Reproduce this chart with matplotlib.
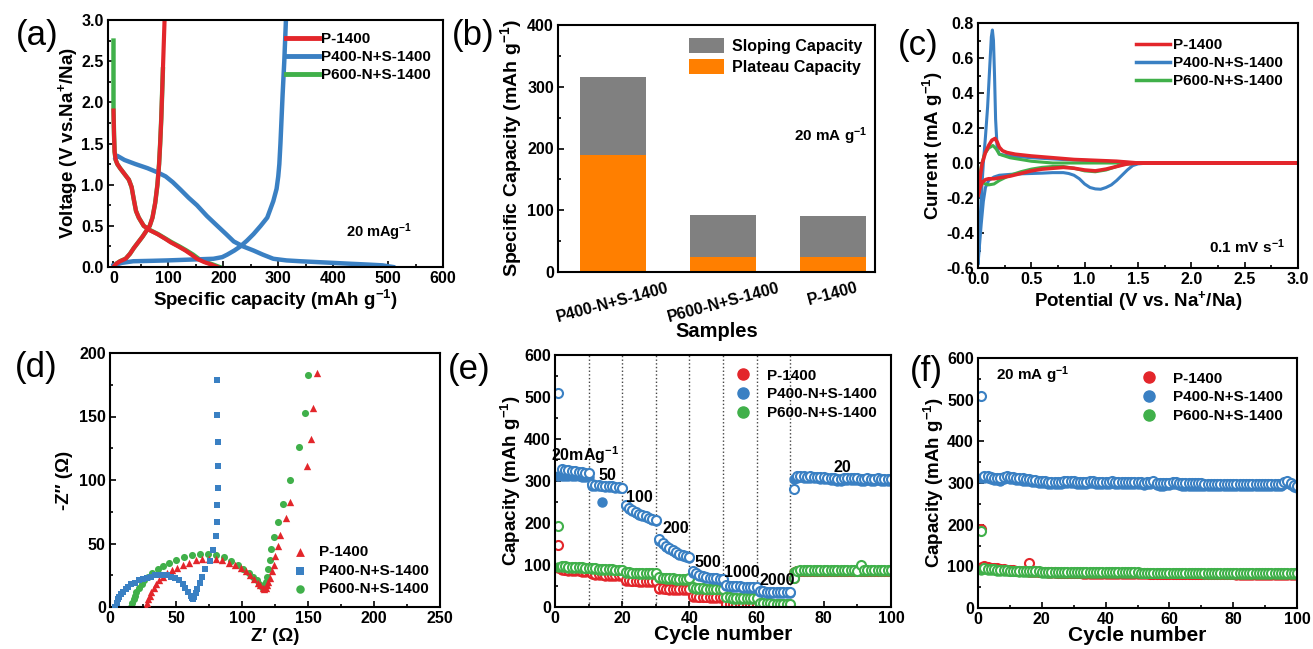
import matplotlib
matplotlib.use('Agg')
import matplotlib.pyplot as plt
from matplotlib.ticker import MultipleLocator
from matplotlib.lines import Line2D
import numpy as np

plt.rcParams['font.family'] = 'Liberation Sans'
plt.rcParams['font.weight'] = 'bold'
plt.rcParams['axes.labelweight'] = 'bold'
plt.rcParams['axes.unicode_minus'] = False
plt.rcParams['mathtext.fontset'] = 'custom'
plt.rcParams['mathtext.rm'] = 'Liberation Sans:bold'
plt.rcParams['mathtext.default'] = 'rm'
plt.rcParams['axes.linewidth'] = 1.5

RED = '#e3262b'
BLUE = '#3a80c3'
GREEN = '#40b04a'
ORANGE = '#ff7f00'
GRAY = '#808080'
NAMES = ['P-1400', 'P400-N+S-1400', 'P600-N+S-1400']

# (a) galvanostatic curves: capacity (mAh/g), voltage (V)
A_RED_DIS_X = [0, 1, 2, 4, 7, 12, 20, 28, 33, 37, 41, 46, 55, 65, 80, 95, 104, 118, 131, 142, 152, 165, 178, 189]
A_RED_DIS_Y = [1.9, 1.6, 1.4, 1.3, 1.25, 1.2, 1.13, 1.06, 0.97, 0.82, 0.68, 0.6, 0.5, 0.45, 0.4, 0.34, 0.3, 0.25, 0.2, 0.15, 0.1, 0.06, 0.03, 0.0]
A_RED_CHG_X = [0, 5, 12, 22, 30, 37, 45, 53, 60, 66, 71, 76, 80, 83, 85, 87, 89, 91, 93]
A_RED_CHG_Y = [0.0, 0.04, 0.07, 0.1, 0.16, 0.23, 0.3, 0.37, 0.44, 0.5, 0.6, 0.78, 1.0, 1.25, 1.5, 1.8, 2.2, 2.6, 3.0]
A_GRN_DIS_X = [0, 0, 1, 2, 4, 7, 12, 20, 28, 33, 37, 41, 46, 55, 66, 81, 96, 106, 120, 133, 145, 155, 168, 181, 193]
A_GRN_DIS_Y = [2.75, 1.9, 1.6, 1.4, 1.3, 1.25, 1.2, 1.13, 1.06, 0.97, 0.82, 0.68, 0.6, 0.5, 0.45, 0.4, 0.34, 0.3, 0.25, 0.2, 0.15, 0.1, 0.06, 0.03, 0.0]
A_GRN_CHG_X = [0, 5, 12, 22, 30, 37, 45, 53, 60, 66, 71, 76, 80, 83, 85, 87, 89, 90]
A_GRN_CHG_Y = [0.0, 0.04, 0.07, 0.1, 0.16, 0.23, 0.3, 0.37, 0.44, 0.5, 0.6, 0.78, 1.0, 1.25, 1.5, 1.8, 2.2, 2.4]
A_BLU_DIS_X = [4, 7, 20, 40, 62, 80, 95, 108, 122, 137, 152, 170, 189, 205, 219, 236, 255, 272, 291, 315, 340, 370, 400, 430, 462, 490, 509]
A_BLU_DIS_Y = [1.32, 1.35, 1.3, 1.25, 1.2, 1.15, 1.1, 1.03, 0.94, 0.84, 0.75, 0.62, 0.5, 0.4, 0.31, 0.25, 0.2, 0.15, 0.1, 0.08, 0.07, 0.06, 0.05, 0.04, 0.03, 0.02, 0.0]
A_BLU_CHG_X = [0, 15, 36, 70, 98, 140, 182, 198, 207, 220, 231, 243, 255, 268, 280, 291, 297, 300, 302, 304, 306, 308, 311, 314]
A_BLU_CHG_Y = [0.02, 0.05, 0.07, 0.075, 0.08, 0.09, 0.1, 0.12, 0.15, 0.2, 0.25, 0.32, 0.4, 0.5, 0.6, 0.8, 0.95, 1.1, 1.25, 1.5, 1.8, 2.1, 2.5, 3.0]

# (b) capacity contributions
B_SAMPLES = ['P400-N+S-1400', 'P600-N+S-1400', 'P-1400']
B_PLATEAU = [189, 25, 25]
B_SLOPING = [127, 67, 66]

# (c) cyclic voltammetry loops: potential (V), current (mA/g)
C_BLU_V = [2.1, 1.8, 1.6, 1.5, 1.45, 1.4, 1.35, 1.3, 1.25, 1.2, 1.15, 1.1, 1.05, 1.0, 0.95, 0.9, 0.85, 0.8, 0.7, 0.6, 0.5, 0.4, 0.3, 0.2, 0.15, 0.1, 0.07, 0.05, 0.03, 0.01, 0.0,
           0.01, 0.03, 0.05, 0.07, 0.09, 0.11, 0.125, 0.135, 0.145, 0.155, 0.165, 0.18, 0.2, 0.25, 0.3, 0.5, 0.8, 1.0, 1.2, 1.4, 1.6, 2.1]
C_BLU_I = [0.0, 0.0, 0.0, -0.005, -0.015, -0.04, -0.07, -0.1, -0.125, -0.14, -0.15, -0.148, -0.14, -0.12, -0.09, -0.07, -0.06, -0.055, -0.055, -0.058, -0.06, -0.062, -0.065, -0.07, -0.08, -0.1, -0.14, -0.22, -0.35, -0.5, -0.58,
           -0.45, -0.2, 0.0, 0.15, 0.32, 0.55, 0.72, 0.76, 0.7, 0.5, 0.25, 0.08, 0.05, 0.045, 0.04, 0.03, 0.02, 0.015, 0.01, 0.003, 0.0, 0.0]
C_GRN_V = [2.0, 1.5, 1.35, 1.2, 1.1, 1.0, 0.9, 0.8, 0.7, 0.6, 0.5, 0.4, 0.3, 0.2, 0.15, 0.1, 0.07, 0.04, 0.02, 0.0,
           0.03, 0.06, 0.1, 0.14, 0.17, 0.2, 0.3, 0.5, 0.7, 2.0]
C_GRN_I = [0.0, 0.0, -0.01, -0.04, -0.05, -0.045, -0.03, -0.02, -0.02, -0.025, -0.035, -0.05, -0.07, -0.1, -0.12, -0.125, -0.12, -0.11, -0.12, -0.15,
           -0.02, 0.05, 0.085, 0.1, 0.08, 0.05, 0.03, 0.01, 0.0, 0.0]
C_RED_V = [3.0, 2.0, 1.5, 1.4, 1.3, 1.2, 1.1, 1.0, 0.9, 0.8, 0.7, 0.6, 0.5, 0.4, 0.3, 0.2, 0.15, 0.1, 0.07, 0.04, 0.02, 0.0,
           0.02, 0.04, 0.07, 0.1, 0.13, 0.16, 0.18, 0.2, 0.23, 0.27, 0.35, 0.5, 0.7, 0.9, 1.1, 1.3, 1.4, 1.5, 3.0]
C_RED_I = [0.0, 0.0, 0.0, -0.005, -0.02, -0.035, -0.045, -0.04, -0.03, -0.025, -0.03, -0.035, -0.045, -0.06, -0.075, -0.085, -0.09, -0.09, -0.095, -0.11, -0.14, -0.19,
           -0.08, 0.0, 0.06, 0.1, 0.13, 0.14, 0.12, 0.09, 0.07, 0.06, 0.05, 0.04, 0.03, 0.02, 0.015, 0.01, 0.005, 0.0, 0.0]

# (d) Nyquist plots: Z' (ohm), -Z'' (ohm)
D_RED_X = [27, 28, 29, 30, 31, 33, 35, 37, 40, 43, 47, 51, 55, 60, 65, 70, 75, 80, 85, 90, 95, 99, 103, 106, 109, 112, 114, 116, 117, 118, 119, 120, 121, 123, 124, 125, 127, 129, 133, 136, 149, 152, 154, 157]
D_RED_Y = [0, 3, 6, 9, 12, 15, 18, 21, 24, 27, 29, 31, 33, 35, 37, 38, 38, 38, 37, 35, 33, 31, 28, 25, 22, 19, 17, 15, 14, 15, 17, 20, 23, 28, 33, 40, 48, 57, 70, 83, 111, 132, 157, 184]
D_BLU_X = [4, 5, 6, 7, 8, 10, 12, 14, 16, 19, 22, 25, 28, 31, 34, 37, 40, 43, 46, 49, 52, 55, 57, 59, 61, 62, 63, 64, 65, 66, 68, 70, 72, 76, 78, 80, 81, 81, 82, 82, 82, 81, 81]
D_BLU_Y = [0, 3, 6, 8, 10, 12, 14, 16, 18, 19, 21, 22, 23, 24, 25, 25, 25, 25, 24, 23, 21, 18, 15, 12, 9, 7, 6, 8, 11, 14, 19, 24, 30, 36, 45, 56, 67, 80, 94, 111, 130, 151, 179]
D_GRN_X = [16, 17, 18, 19, 20, 22, 24, 26, 29, 32, 36, 40, 45, 50, 56, 62, 68, 74, 80, 86, 92, 97, 101, 105, 108, 111, 113, 115, 116, 117, 118, 119, 120, 121, 122, 124, 127, 131, 136, 143, 148, 150]
D_GRN_Y = [0, 3, 6, 9, 12, 15, 18, 21, 24, 27, 30, 32, 35, 37, 39, 41, 42, 42, 41, 39, 36, 33, 30, 27, 24, 21, 18, 16, 15, 17, 20, 24, 30, 37, 46, 55, 67, 81, 100, 126, 153, 183]

# (e) rate capability, cycles 1-100
E_RATES = ['20mAg$^{-1}$', '50', '100', '200', '500', '1000', '2000', '20']
E_BLU_OPEN = [510, 328, 327, 326, 325, 323, 322, 321, 320, 318,
              293, 291, 290, 289, 288, 288, 287, 286, 285, 284,
              243, 236, 230, 226, 222, 219, 216, 213, 210, 206,
              162, 153, 146, 140, 135, 131, 127, 124, 121, 119,
              86, 81, 77, 74, 72, 70, 69, 68, 67, 66,
              53, 51, 50, 49, 49, 48, 48, 48, 47, 47,
              38, 37, 36, 36, 36, 36, 35, 35, 35, 35,
              280, 312, 313, 311, 310, 311, 310, 310, 309, 309,
              308, 307, 306, 305, 304, 306, 307, 307, 306, 306,
              305, 305, 306, 305, 305, 306, 305, 305, 305, 305]
E_BLU_FULL = [312, 313, 313, 312, 312, 311, 311, 310, 310, 310,
              289, 288, 287, 250, 286, 285, 285, 284, 284, 283,
              240, 234, 228, 224, 220, 217, 214, 211, 208, 205,
              158, 150, 143, 138, 133, 129, 125, 122, 119, 117,
              82, 78, 75, 72, 70, 68, 67, 66, 65, 64,
              50, 49, 48, 47, 47, 46, 46, 46, 45, 45,
              36, 35, 34, 34, 34, 34, 33, 33, 33, 33,
              305, 308, 309, 307, 306, 307, 306, 306, 305, 305,
              304, 303, 302, 301, 300, 302, 303, 303, 302, 302,
              301, 301, 302, 301, 301, 302, 301, 301, 301, 301]
E_RED_OPEN = [148, 90, 89, 88, 88, 87, 87, 86, 86, 86,
              80, 79, 78, 78, 77, 77, 77, 77, 76, 76,
              65, 64, 63, 63, 62, 62, 62, 62, 61, 61,
              46, 45, 44, 43, 43, 42, 42, 42, 42, 42,
              27, 26, 25, 25, 25, 24, 24, 24, 24, 24,
              8, 7, 6, 6, 6, 5, 5, 5, 5, 5,
              2, 2, 2, 2, 2, 1, 1, 1, 1, 1,
              70, 85, 86, 86, 86, 86, 86, 86, 86, 86,
              86, 86, 86, 86, 86, 86, 86, 86, 86, 86,
              86, 86, 86, 86, 86, 86, 86, 86, 86, 86]
E_RED_FULL = [92, 88, 87, 86, 86, 85, 85, 84, 84, 84,
              78, 77, 76, 76, 75, 75, 75, 75, 74, 74,
              63, 62, 61, 61, 60, 60, 60, 60, 59, 59,
              44, 43, 42, 41, 41, 40, 40, 40, 40, 40,
              25, 24, 23, 23, 23, 22, 22, 22, 22, 22,
              6, 5, 4, 4, 4, 3, 3, 3, 3, 3,
              1, 1, 1, 1, 1, 0, 0, 0, 0, 0,
              84, 85, 85, 85, 85, 85, 85, 85, 85, 85,
              85, 85, 85, 85, 85, 85, 85, 85, 85, 85,
              85, 85, 85, 85, 85, 85, 85, 85, 85, 85]
E_GRN_OPEN = [193, 98, 97, 96, 96, 95, 95, 95, 94, 94,
              93, 92, 91, 91, 90, 90, 90, 89, 89, 89,
              84, 83, 82, 82, 81, 81, 81, 80, 80, 80,
              72, 70, 69, 68, 68, 67, 67, 67, 67, 68,
              48, 46, 45, 45, 44, 44, 44, 44, 44, 44,
              25, 23, 22, 22, 22, 21, 21, 21, 21, 21,
              10, 9, 9, 9, 8, 8, 8, 8, 8, 7,
              70, 86, 87, 87, 87, 87, 87, 87, 87, 87,
              87, 87, 87, 87, 87, 87, 87, 87, 87, 86,
              100, 87, 87, 87, 87, 87, 87, 87, 87, 87]
E_GRN_FULL = [95, 96, 95, 94, 94, 93, 93, 93, 92, 92,
              91, 90, 89, 89, 88, 88, 88, 87, 87, 87,
              82, 81, 80, 80, 79, 79, 79, 78, 78, 78,
              70, 68, 67, 66, 66, 65, 65, 65, 65, 66,
              46, 44, 43, 43, 42, 42, 42, 42, 42, 42,
              23, 21, 20, 20, 20, 19, 19, 19, 19, 19,
              8, 7, 7, 7, 6, 6, 6, 6, 6, 5,
              84, 85, 85, 85, 85, 85, 85, 85, 85, 85,
              85, 85, 85, 85, 85, 85, 85, 85, 85, 85,
              85, 85, 85, 85, 85, 85, 85, 85, 85, 85]

# (f) cycling at 20 mA/g, cycles 1-100
F_BLU_OPEN = [508, 318, 316, 314, 313, 312, 311, 314, 316, 315,
              314, 313, 312, 311, 310, 309, 308, 307, 306, 305,
              304, 303, 303, 302, 302, 303, 304, 305, 304, 304,
              303, 303, 303, 303, 304, 304, 303, 303, 303, 303,
              303, 304, 303, 302, 302, 303, 303, 302, 302, 302,
              302, 301, 303, 302, 304, 300, 299, 299, 300, 301,
              303, 302, 300, 299, 299, 299, 299, 299, 299, 299,
              298, 298, 298, 298, 298, 298, 298, 298, 298, 298,
              298, 298, 298, 297, 297, 297, 297, 297, 297, 297,
              297, 297, 297, 297, 297, 302, 304, 301, 296, 294]
F_BLU_FULL = [312, 313, 311, 309, 308, 307, 306, 309, 311, 310,
              309, 308, 307, 306, 305, 304, 303, 302, 301, 300,
              299, 298, 298, 297, 297, 298, 299, 300, 299, 299,
              298, 298, 298, 298, 299, 299, 298, 298, 298, 298,
              298, 299, 298, 297, 297, 298, 298, 297, 297, 297,
              297, 296, 298, 297, 299, 295, 294, 294, 295, 296,
              298, 297, 295, 294, 294, 294, 294, 294, 294, 294,
              293, 293, 293, 293, 293, 293, 293, 293, 293, 293,
              293, 293, 293, 292, 292, 292, 292, 292, 292, 292,
              292, 292, 292, 292, 292, 297, 299, 296, 291, 289]
F_RED_OPEN = [190, 100, 98, 97, 96, 95, 94, 93, 92, 91,
              91, 90, 90, 89, 89, 108, 88, 88, 87, 87,
              87, 86, 86, 86, 85, 85, 85, 84, 84, 84,
              84, 84, 83, 83, 83, 83, 83, 83, 83, 83,
              83, 83, 83, 83, 83, 83, 83, 83, 83, 83,
              83, 83, 83, 82, 82, 82, 82, 82, 82, 82,
              82, 82, 82, 82, 82, 82, 82, 82, 82, 82,
              82, 82, 82, 82, 82, 82, 82, 82, 82, 82,
              81, 81, 81, 81, 81, 81, 81, 81, 81, 81,
              81, 81, 81, 81, 81, 81, 81, 81, 81, 81]
F_RED_FULL = [98, 99, 97, 96, 95, 94, 93, 92, 91, 90,
              90, 89, 89, 88, 88, 87, 87, 87, 86, 86,
              86, 85, 85, 85, 84, 84, 84, 83, 83, 83,
              83, 83, 82, 82, 82, 82, 82, 82, 82, 82,
              82, 82, 82, 82, 82, 82, 82, 82, 82, 82,
              82, 82, 82, 81, 81, 81, 81, 81, 81, 81,
              81, 81, 81, 81, 81, 81, 81, 81, 81, 81,
              81, 81, 81, 81, 81, 81, 81, 81, 81, 81,
              80, 80, 80, 80, 80, 80, 80, 80, 80, 80,
              80, 80, 80, 80, 80, 80, 80, 80, 80, 80]
F_GRN_OPEN = [185, 95, 94, 93, 93, 92, 92, 91, 91, 90,
              90, 90, 89, 89, 89, 88, 88, 88, 88, 87,
              87, 87, 87, 87, 87, 87, 87, 87, 87, 87,
              86, 86, 86, 86, 86, 86, 86, 86, 86, 86,
              86, 86, 86, 86, 86, 86, 86, 86, 86, 86,
              85, 85, 85, 85, 85, 85, 85, 85, 85, 85,
              85, 85, 85, 85, 85, 85, 85, 85, 85, 85,
              84, 84, 84, 84, 84, 84, 84, 84, 84, 84,
              84, 84, 84, 84, 84, 84, 84, 84, 84, 84,
              84, 84, 84, 84, 84, 84, 84, 84, 84, 84]
F_GRN_FULL = [92, 93, 92, 91, 91, 90, 90, 89, 89, 88,
              88, 88, 87, 87, 87, 86, 86, 86, 86, 85,
              85, 85, 85, 85, 85, 85, 85, 85, 85, 85,
              84, 84, 84, 84, 84, 84, 84, 84, 84, 84,
              84, 84, 84, 84, 84, 84, 84, 84, 84, 84,
              83, 83, 83, 83, 83, 83, 83, 83, 83, 83,
              83, 83, 83, 83, 83, 83, 83, 83, 83, 83,
              82, 82, 82, 82, 82, 82, 82, 82, 82, 82,
              82, 82, 82, 82, 82, 82, 82, 82, 82, 82,
              82, 82, 82, 82, 82, 82, 82, 82, 82, 82]

W, H = 1313, 649
fig = plt.figure(figsize=(W / 100, H / 100), dpi=100)


def box(l, t, r, b):
    return fig.add_axes([l / W, 1 - b / H, (r - l) / W, (b - t) / H])


def style(ax, xmaj, xmin, ymaj, ymin):
    if xmaj:
        ax.xaxis.set_major_locator(MultipleLocator(xmaj))
        ax.xaxis.set_minor_locator(MultipleLocator(xmin))
    ax.yaxis.set_major_locator(MultipleLocator(ymaj))
    ax.yaxis.set_minor_locator(MultipleLocator(ymin))
    ax.tick_params(which='both', direction='in', top=False, right=False,
                   labelsize=11.5, width=1.2, pad=3)
    ax.tick_params(which='major', length=4)
    ax.tick_params(which='minor', length=2.5)


def panel(x, y, s):
    fig.text(x / W, 1 - y / H, s, fontsize=25, fontweight='normal', ha='center', va='center')


LABEL = 13.5

# (a)
ax = box(108, 20, 443, 267)
ax.plot(A_GRN_CHG_X, A_GRN_CHG_Y, color=GREEN, lw=3.2)
ax.plot(A_GRN_DIS_X, A_GRN_DIS_Y, color=GREEN, lw=3.2)
ax.plot(A_BLU_DIS_X, A_BLU_DIS_Y, color=BLUE, lw=3.2)
ax.plot(A_BLU_CHG_X, A_BLU_CHG_Y, color=BLUE, lw=3.2)
ax.plot(A_RED_DIS_X, A_RED_DIS_Y, color=RED, lw=3.0)
ax.plot(A_RED_CHG_X, A_RED_CHG_Y, color=RED, lw=3.0)
ax.set_xlim(-10, 600)
ax.set_ylim(0, 3.0)
style(ax, 100, 50, 0.5, 0.25)
ax.set_xlabel('Specific capacity (mAh g$^{-1}$)', fontsize=LABEL, labelpad=1)
ax.set_ylabel('Voltage (V vs.Na$^{+}$/Na)', fontsize=LABEL, labelpad=1)
handles = [Line2D([], [], color=c, lw=3.5) for c in (RED, BLUE, GREEN)]
ax.legend(handles, NAMES, loc='upper right', frameon=False, fontsize=11,
          handlelength=2.2, handletextpad=0.1, labelspacing=0.25, borderaxespad=0.4)
ax.text(0.81, 0.14, '20 mAg$^{-1}$', transform=ax.transAxes, fontsize=10.5, ha='center', va='center')
panel(37, 35, '(a)')

# (b)
ax = box(558, 25, 875, 272)
pos = np.arange(len(B_SAMPLES))
ax.bar(pos, B_PLATEAU, width=0.6, color=ORANGE, label='Plateau Capacity')
ax.bar(pos, B_SLOPING, width=0.6, bottom=B_PLATEAU, color=GRAY, label='Sloping Capacity')
ax.set_xlim(-0.5, 2.38)
ax.set_ylim(0, 400)
style(ax, None, None, 100, 50)
ax.set_xticks(pos)
ax.set_xticklabels(B_SAMPLES, rotation=15, fontsize=11.5)
ax.tick_params(axis='x', length=0, pad=6)
ax.set_xlabel('Samples', fontsize=LABEL + 1, labelpad=-2)
ax.set_ylabel('Specific Capacity (mAh g$^{-1}$)', fontsize=LABEL + 0.5, labelpad=2)
hb, lb = ax.get_legend_handles_labels()
ax.legend(hb[::-1], lb[::-1], loc='upper right', frameon=False, fontsize=11.5,
          handlelength=2.2, handleheight=1.1, handletextpad=0.5, labelspacing=0.3, borderaxespad=0.4)
ax.text(0.86, 0.55, '20 mA g$^{-1}$', transform=ax.transAxes, fontsize=11, ha='center', va='center')
panel(473, 35, '(b)')

# (c)
ax = box(978, 23, 1298, 268)
ax.plot(C_BLU_V, C_BLU_I, color=BLUE, lw=2.2)
ax.plot(C_GRN_V, C_GRN_I, color=GREEN, lw=2.2)
ax.plot(C_RED_V, C_RED_I, color=RED, lw=2.6)
ax.set_xlim(0, 3.0)
ax.set_ylim(-0.6, 0.8)
style(ax, 0.5, 0.25, 0.2, 0.1)
ax.set_xlabel('Potential (V vs. Na$^{+}$/Na)', fontsize=LABEL, labelpad=1)
ax.set_ylabel('Current (mA g$^{-1}$)', fontsize=LABEL, labelpad=1)
handles = [Line2D([], [], color=c, lw=2.5) for c in (RED, BLUE, GREEN)]
ax.legend(handles, NAMES, loc='upper right', frameon=False, fontsize=11,
          handlelength=2.2, handletextpad=0.2, labelspacing=0.25, borderaxespad=0.6)
ax.text(0.84, 0.085, '0.1 mV s$^{-1}$', transform=ax.transAxes, fontsize=11, ha='center', va='center')
panel(918, 45, '(c)')

# (d)
ax = box(110, 353, 440, 607)
ax.scatter(D_RED_X, D_RED_Y, marker='^', s=28, color=RED, lw=0, label=NAMES[0], zorder=3)
ax.scatter(D_BLU_X, D_BLU_Y, marker='s', s=18, color=BLUE, lw=0, label=NAMES[1], zorder=3)
ax.scatter(D_GRN_X, D_GRN_Y, marker='o', s=26, color=GREEN, lw=0, label=NAMES[2], zorder=2)
ax.set_xlim(0, 250)
ax.set_ylim(0, 200)
style(ax, 50, 25, 50, 25)
ax.set_xlabel("Z\u2032 (\u03a9)", fontsize=LABEL, labelpad=1)
ax.set_ylabel("-Z\u2033 (\u03a9)", fontsize=LABEL, labelpad=4)
ax.legend(loc='lower right', frameon=False, fontsize=11, handletextpad=0.3,
          labelspacing=0.3, borderaxespad=0.3, markerscale=1.2)
panel(36, 367, '(d)')


def cycles(ax, series):
    for full, opened, c in series:
        n = np.arange(1, len(full) + 1)
        ax.plot(n, full, 'o', ms=6.5, color=c, mec=c, lw=0)
        ax.plot(n, opened, 'o', ms=6.5, mfc='white', mec=c, mew=1.5, lw=0)
    handles = [Line2D([], [], marker='o', ls='', ms=8, color=c) for c in (RED, BLUE, GREEN)]
    ax.legend(handles, NAMES, loc='upper right', frameon=False, fontsize=11,
              handletextpad=0.6, labelspacing=0.3, borderaxespad=0.5, borderpad=0.4)
    ax.set_xlim(0, 100)
    ax.set_ylim(0, 600)
    style(ax, 20, 10, 100, 50)
    ax.set_xlabel('Cycle number', fontsize=LABEL + 1.5, labelpad=-1)
    ax.set_ylabel('Capacity (mAh g$^{-1}$)', fontsize=LABEL, labelpad=1)


# (e)
ax = box(555, 355, 891, 607)
for xv in range(10, 80, 10):
    ax.axvline(xv, color='#444444', ls=':', lw=1.0, zorder=0)
cycles(ax, [(E_RED_FULL, E_RED_OPEN, RED), (E_GRN_FULL, E_GRN_OPEN, GREEN), (E_BLU_FULL, E_BLU_OPEN, BLUE)])
rate_xy = [(9, 362), (15.5, 314), (25, 260), (36, 186), (45.5, 107), (55.5, 81), (66, 64), (85.5, 333)]
for (tx, ty), s in zip(rate_xy, E_RATES):
    ax.text(tx, ty, s, fontsize=11.5, ha='center', va='center')
panel(469, 370, '(e)')

# (f)
ax = box(978, 358, 1297, 608)
cycles(ax, [(F_RED_FULL, F_RED_OPEN, RED), (F_GRN_FULL, F_GRN_OPEN, GREEN), (F_BLU_FULL, F_BLU_OPEN, BLUE)])
ax.text(0.17, 0.93, '20 mA g$^{-1}$', transform=ax.transAxes, fontsize=11, ha='center', va='center')
panel(926, 372, '(f)')

fig.savefig('out.png', dpi=100)
